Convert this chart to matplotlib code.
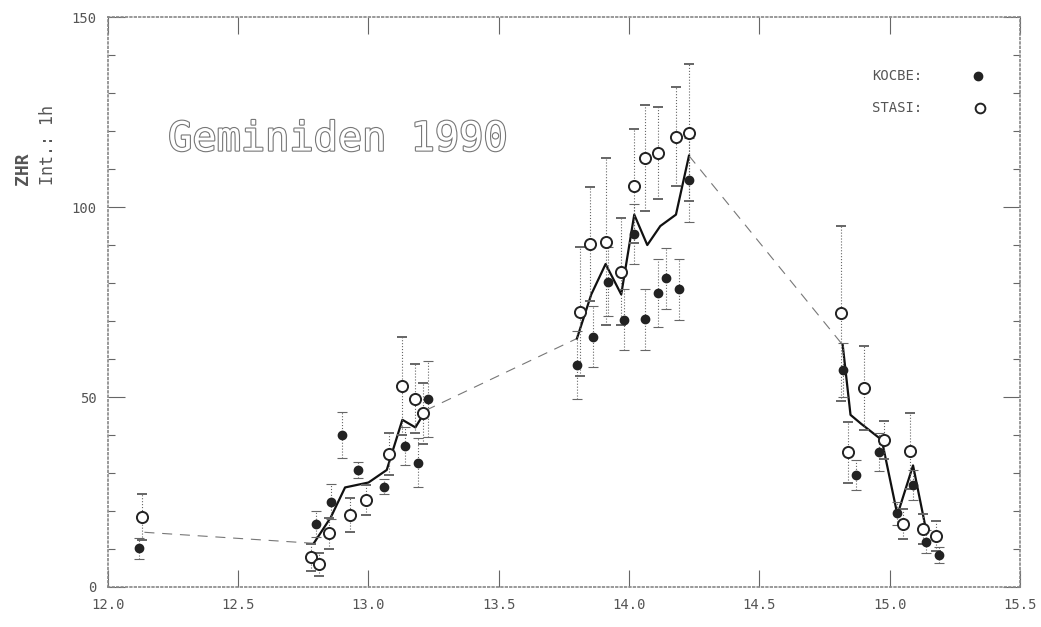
import matplotlib
matplotlib.use("Agg")
import matplotlib.pyplot as plt
import matplotlib.patheffects as pe
from matplotlib.ticker import MultipleLocator

# KOCBE (filled circles)
kocbe_t = [12.12, 12.80, 12.857, 12.90, 12.96, 13.06, 13.14, 13.19, 13.23,
           13.80, 13.86, 13.92, 13.98, 14.02, 14.06, 14.11, 14.14, 14.19, 14.23,
           14.82, 14.87, 14.96, 15.03, 15.09, 15.14, 15.19]
kocbe_zhr = [10.2, 16.6, 22.5, 40.0, 30.8, 26.4, 37.2, 32.7, 49.4,
             58.4, 65.9, 80.4, 70.4, 92.9, 70.5, 77.3, 81.2, 78.3, 107.1,
             57.1, 29.5, 35.4, 19.4, 26.8, 11.9, 8.4]
kocbe_err = [2.8, 3.5, 4.5, 6.0, 2.0, 2.0, 5.0, 6.5, 10.0,
             9.0, 8.0, 9.0, 8.0, 8.0, 8.0, 9.0, 8.0, 8.0, 11.0,
             7.0, 4.0, 5.0, 3.0, 4.0, 3.0, 2.0]

# STASI (open circles)
stasi_t = [12.13, 12.78, 12.81, 12.85, 12.93, 12.99, 13.08, 13.13, 13.18, 13.21,
           13.81, 13.85, 13.91, 13.97, 14.02, 14.06, 14.11, 14.18, 14.23,
           14.815, 14.84, 14.90, 14.98, 15.05, 15.08, 15.13, 15.18]
stasi_zhr = [18.5, 7.8, 6.0, 14.1, 18.9, 22.9, 34.9, 52.9, 49.6, 45.7,
             72.4, 90.4, 90.9, 83.0, 105.5, 112.9, 114.2, 118.5, 119.6,
             72.0, 35.4, 52.3, 38.7, 16.6, 35.9, 15.2, 13.4]
stasi_err = [6.0, 3.5, 3.0, 4.0, 4.5, 4.0, 5.5, 13.0, 9.0, 8.0,
             17.0, 15.0, 22.0, 14.0, 15.0, 14.0, 12.0, 13.0, 18.0,
             23.0, 8.0, 11.0, 5.0, 4.0, 10.0, 4.0, 4.0]

# mean curve, solid where observed, dashed across the gaps
seg1_t = [12.79, 12.855, 12.91, 13.00, 13.07, 13.13, 13.18, 13.22]
seg1_zhr = [11.5, 18.3, 26.2, 27.5, 30.8, 44.0, 42.0, 46.5]
seg2_t = [13.80, 13.855, 13.91, 13.97, 14.02, 14.07, 14.12, 14.18, 14.23]
seg2_zhr = [65.4, 77.0, 85.0, 77.0, 98.0, 90.0, 95.0, 98.0, 113.5]
seg3_t = [14.82, 14.85, 14.89, 14.97, 15.03, 15.09, 15.14]
seg3_zhr = [63.7, 45.3, 43.0, 38.7, 19.0, 32.0, 15.0]
gap_t = [[12.14, 12.79], [13.22, 13.80], [14.23, 14.82]]
gap_zhr = [[14.4, 11.5], [46.5, 65.4], [113.5, 63.7]]

grey = "#555555"
mono = "DejaVu Sans Mono"

fig = plt.figure(figsize=(10.41, 6.27), dpi=100)
ax = fig.add_axes([0.1037, 0.0638, 0.876, 0.909])

for t, z in zip(gap_t, gap_zhr):
    ax.plot(t, z, color="#777777", lw=0.8, ls=(0, (9, 7)))
for t, z in [(seg1_t, seg1_zhr), (seg2_t, seg2_zhr), (seg3_t, seg3_zhr)]:
    ax.plot(t, z, color="#111111", lw=1.6)

eb = ax.errorbar(stasi_t, stasi_zhr, yerr=stasi_err, fmt="o", ms=8,
                 mfc="white", mec="#222222", mew=1.4, ecolor="#666666",
                 elinewidth=0.8, capsize=3.5, capthick=0.8)
eb[2][0].set_linestyle(":")
eb = ax.errorbar(kocbe_t, kocbe_zhr, yerr=kocbe_err, fmt="o", ms=6,
                 mfc="#222222", mec="#222222", ecolor="#666666",
                 elinewidth=0.8, capsize=3.5, capthick=0.8)
eb[2][0].set_linestyle(":")

ax.set_xlim(12.0, 15.5)
ax.set_ylim(0, 150)
ax.xaxis.set_major_locator(MultipleLocator(0.5))
ax.yaxis.set_major_locator(MultipleLocator(50))
ax.yaxis.set_minor_locator(MultipleLocator(10))
ax.tick_params(which="both", direction="in", top=True, right=True,
               color="#666666", width=0.8, labelcolor=grey, labelsize=10)
ax.tick_params(which="major", length=12, pad=8)
ax.tick_params(which="minor", length=5)
ax.set_xticklabels([f"{v:.1f}" for v in ax.get_xticks()], family=mono)
ax.set_yticks([0, 50, 100, 150])
ax.set_yticklabels(["0", "50", "100", "150"], family=mono)
for s in ax.spines.values():
    s.set_color("#888888")
    s.set_linestyle(":")
    s.set_linewidth(1.2)

ax.text(0.066, 0.785, "Geminiden 1990", transform=ax.transAxes, family=mono,
        fontsize=29, color="white", va="center",
        path_effects=[pe.withStroke(linewidth=1.6, foreground="#777777")])

ax.text(0.838, 0.896, "KOCBE:", transform=ax.transAxes, family=mono,
        fontsize=10, color=grey, va="center")
ax.plot([0.954], [0.896], "o", ms=6, color="#222222", transform=ax.transAxes)
ax.text(0.838, 0.840, "STASI:", transform=ax.transAxes, family=mono,
        fontsize=10, color=grey, va="center")
ax.plot([0.956], [0.840], "o", ms=7, mfc="white", mec="#222222", mew=1.4,
        transform=ax.transAxes)

fig.text(0.022, 0.705, "ZHR", rotation=90, family=mono, fontsize=13,
         fontweight="bold", color=grey, va="bottom", ha="center")
fig.text(0.046, 0.705, "Int.: 1h", rotation=90, family=mono, fontsize=12,
         color=grey, va="bottom", ha="center")

fig.savefig("out.png", dpi=100)
